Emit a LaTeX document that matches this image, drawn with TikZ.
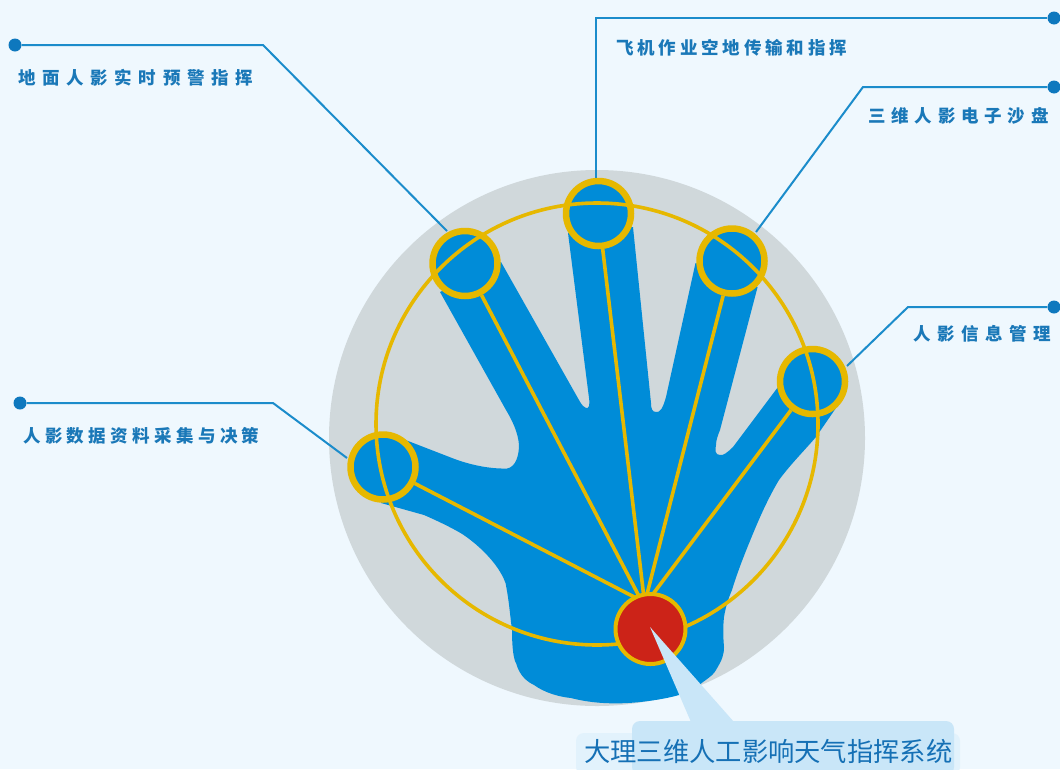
\documentclass[tikz,border=0pt]{standalone}
\usepackage{fontspec}
\setmainfont{Noto Sans CJK SC}
\definecolor{bgc}{HTML}{EFF8FE}
\definecolor{disc}{HTML}{D0D8DB}
\definecolor{hand}{HTML}{008CD8}
\definecolor{gold}{HTML}{E6B800}
\definecolor{linec}{HTML}{1B8CCB}
\definecolor{dotc}{HTML}{0E78BE}
\definecolor{txt}{HTML}{1A78B8}
\definecolor{capc}{HTML}{1570B5}
\definecolor{redc}{HTML}{CC2318}
\definecolor{pale}{HTML}{C9E6F8}
\definecolor{glow}{HTML}{E2F2FC}
\newcommand{\spaced}[2]{\addfontfeature{LetterSpace=#1}#2}
\tikzset{
  px/.style={x=1pt,y=-1pt},
  lead/.style={draw=linec,line width=2pt},
  dotn/.style={circle,fill=dotc,inner sep=0pt,minimum size=13pt},
  lab/.style={font=\fontsize{17.5}{20}\selectfont\bfseries,text=txt,anchor=west,inner sep=0pt},
  tip/.style={circle,draw=gold,line width=6.5pt,inner sep=0pt,minimum size=65pt},
  spoke/.style={draw=gold,line width=3.6pt},
}
\begin{document}
\begin{tikzpicture}[px]
\useasboundingbox (0,0) rectangle (1060,769);
\fill[bgc] (0,0) rectangle (1060,769);
\fill[disc] (597,438) circle (268);
% hand
\fill[hand] (381,503)
 -- (424,515)
 .. controls (440,522) and (450,527) .. (460.6,533)
 .. controls (475,542) and (498,562) .. (505.5,583)
 .. controls (509,600) and (510,615) .. (512,630)
 .. controls (512,650) and (514,660) .. (516,663)
 .. controls (520,677) and (528,682) .. (534,685)
 .. controls (545,693) and (560,697) .. (571,698)
 .. controls (590,703) and (610,704) .. (628,703)
 .. controls (645,702) and (665,699) .. (679,695)
 .. controls (690,691) and (697,687) .. (703,682)
 .. controls (710,677) and (714,674) .. (716,670)
 .. controls (722,660) and (724,655) .. (724,647)
 .. controls (723,635) and (723,627) .. (724,617)
 .. controls (726,605) and (729,597) .. (732,590)
 .. controls (738,570) and (747,548) .. (754.5,530)
 .. controls (762,512) and (770,495) .. (779,480)
 .. controls (790,465) and (803,452) .. (816,437)
 -- (838,405) -- (778,387)
 -- (733,447)
 .. controls (728,452) and (723,456) .. (720,455)
 .. controls (715,455) and (715,450) .. (716,445)
 .. controls (716,440) and (718,435) .. (720,430)
 -- (757.6,287) -- (695.5,263) -- (666,397)
 .. controls (663,408) and (660,413) .. (656,412)
 .. controls (652,412) and (651,408) .. (651,403)
 -- (633,227) -- (568,233) -- (589,398)
 .. controls (590,405) and (589,409) .. (586,408)
 .. controls (582,407) and (578,398) .. (575,393)
 -- (501,262) -- (440,292) -- (506,410)
 .. controls (512,420) and (518,432) .. (519,445)
 .. controls (519,455) and (516,467) .. (507,468.5)
 .. controls (490,469) and (470,465) .. (452,458)
 -- (405.5,440) -- cycle;
% tips
\node[tip,fill=hand] (t1) at (383,467) {};
\node[tip,fill=hand] (t2) at (465,263.5) {};
\node[tip,fill=hand] (t3) at (598.5,213.5) {};
\node[tip,fill=hand] (t4) at (732,261) {};
\node[tip,fill=hand] (t5) at (812.5,381.5) {};
% big ring
\draw[draw=gold,line width=3.6pt] (597,424) circle (221);
\coordinate (c1) at (640,600);
\coordinate (c2) at (641,600);
\coordinate (c3) at (644,598);
\coordinate (c4) at (646,598);
\coordinate (c5) at (650,598);
\draw[spoke] (t1) -- (c1);
\draw[spoke] (t2) -- (c2);
\draw[spoke] (t3) -- (c3);
\draw[spoke] (t4) -- (c4);
\draw[spoke] (t5) -- (c5);
\node[circle,draw=gold,fill=redc,line width=4pt,inner sep=0pt,minimum size=70pt] (r) at (650.5,629) {};
% leads
\node[dotn] (d1) at (15,45) {};
\coordinate (e1) at (447,231);
\draw[lead] (d1) -- (263,45) -- (e1);
\node[dotn] (d2) at (1054,18) {};
\coordinate (e2) at (596,178);
\draw[lead] (d2) -- (596,18) -- (e2);
\node[dotn] (d3) at (1054,87) {};
\coordinate (e3) at (756,232);
\draw[lead] (d3) -- (863,87) -- (e3);
\node[dotn] (d4) at (1054,307) {};
\coordinate (e4) at (847,366);
\draw[lead] (d4) -- (908,307) -- (e4);
\node[dotn] (d5) at (20,403) {};
\coordinate (e5) at (347,458);
\draw[lead] (d5) -- (273,403) -- (e5);
\node[lab] (l1) at (18,78) {\spaced{38}{地面人影实时预警指挥}};
\node[lab] (l2) at (616,48) {\spaced{22}{飞机作业空地传输和指挥}};
\node[lab] (l3) at (868,116) {\spaced{33}{三维人影电子沙盘}};
\node[lab] (l4) at (913,334) {\spaced{37}{人影信息管理}};
\node[lab] (l5) at (23,436) {\spaced{25}{人影数据资料采集与决策}};
% callout
\fill[glow,rounded corners=8pt] (576,733) rectangle (960,775);
\fill[pale,rounded corners=8pt] (632,721) rectangle (954,775);
\fill[pale] (650,627) -- (734,722) -- (691,722) -- cycle;
\node[font=\fontsize{26.3}{30}\selectfont,text=capc,anchor=west,inner sep=0pt] (cap) at (584,751) {大理三维人工影响天气指挥系统};
\end{tikzpicture}
\end{document}
